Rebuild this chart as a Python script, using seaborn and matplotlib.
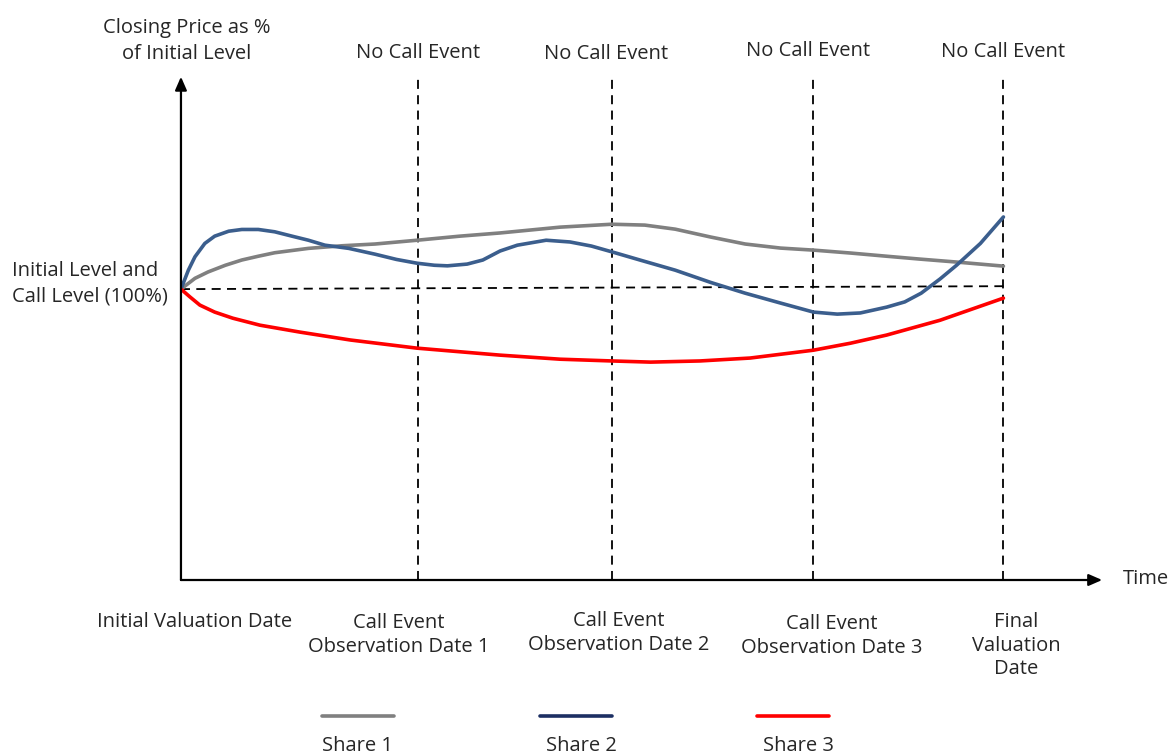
import pandas as pd
import matplotlib.pyplot as plt
import seaborn as sns
from matplotlib.lines import Line2D

# -------------------------
# Data (time as % of term, level as % of initial)
# -------------------------
share1_t = [0, 1.7, 3.3, 5.4, 7.4, 9.4, 11.4, 15.5, 19.6, 23.6, 28.7, 33.9, 38.8, 46.1, 52.4,
            56.4, 60.1, 64.4, 68.6, 72.9, 76.9, 81.4, 85.8, 89.9, 94.3, 100]
share1_v = [100, 103.7, 105.9, 108.2, 110.0, 111.3, 112.5, 114.0, 114.9, 115.5, 116.8, 118.2,
            119.3, 121.3, 122.3, 122.0, 120.6, 117.9, 115.5, 114.1, 113.4, 112.4, 111.3,
            110.3, 109.3, 107.9]

share2_t = [0, 0.9, 1.7, 2.9, 4.1, 5.8, 7.4, 9.4, 11.4, 13.5, 15.5, 17.5, 20.4, 23.6, 26.2,
            28.7, 30.8, 32.4, 34.8, 36.7, 38.8, 40.9, 44.4, 47.3, 49.9, 52.4, 55.8, 60.1,
            64.4, 68.6, 72.9, 76.9, 79.8, 82.6, 85.8, 88.0, 90.0, 92.3, 94.3, 97.2, 100]
share2_v = [100, 106.5, 111.1, 115.7, 118.2, 119.9, 120.5, 120.5, 119.7, 118.2, 116.8, 115.1,
            114.0, 112.0, 110.2, 108.9, 108.2, 108.0, 108.6, 110.0, 113.1, 115.1, 116.8, 116.2,
            114.8, 112.8, 110.0, 106.5, 102.3, 98.6, 95.2, 92.1, 91.4, 91.8, 93.8, 95.6, 98.6,
            103.5, 108.2, 115.7, 124.8]

share3_t = [0, 1.1, 2.3, 4.1, 6.3, 9.6, 14.5, 20.6, 28.7, 38.8, 46.1, 52.4,
            57.1, 63.1, 69.2, 76.9, 81.4, 85.8, 92.3, 100]
share3_v = [100, 97.3, 94.5, 92.1, 90.0, 87.6, 85.2, 82.5, 79.7, 77.3, 75.9, 75.3,
            74.9, 75.3, 76.3, 79.0, 81.4, 84.2, 89.3, 96.9]

call_level_t = [0, 100]
call_level_v = [100, 101]

obs_t = [28.8, 52.4, 76.9, 100]
obs_top = 173
obs_labels = ["Call Event\nObservation Date 1", "Call Event\nObservation Date 2",
              "Call Event\nObservation Date 3", "Final\nValuation\nDate"]
event_labels = ["No Call Event"] * 4

series_names = ["Share 1", "Share 2", "Share 3"]
line_colors = ["#808080", "#3B5E8D", "#FF0000"]
legend_colors = ["#808080", "#1C2F63", "#FF0000"]

df = pd.concat([
    pd.DataFrame({"t": share1_t, "level": share1_v, "share": "Share 1"}),
    pd.DataFrame({"t": share2_t, "level": share2_v, "share": "Share 2"}),
    pd.DataFrame({"t": share3_t, "level": share3_v, "share": "Share 3"}),
])

# -------------------------
# Figure
# -------------------------
sns.set_style("white")
plt.rcParams["font.family"] = ["Open Sans", "DejaVu Sans"]

fig = plt.figure(figsize=(11.69, 7.56), dpi=100)
ax = fig.add_axes([0.1548, 0.2328, 0.788, 0.6653])
ax.set_xlim(0, 112)
ax.set_ylim(0, 172.9)
ax.axis("off")

dash = (0, (5, 3.5))
for t in obs_t:
    ax.plot([t, t], [0, obs_top], color="black", lw=1.3, linestyle=dash, clip_on=False)
ax.plot(call_level_t, call_level_v, color="black", lw=1.3, linestyle=dash)

sns.lineplot(data=df, x="t", y="level", hue="share", palette=line_colors,
             estimator=None, sort=False, lw=2.6, legend=False, ax=ax)

# axes with arrows
arrow = dict(arrowstyle="-|>,head_length=0.8,head_width=0.35", color="black", lw=1.6,
             shrinkA=0, shrinkB=0)
ax.annotate("", xy=(112, 0), xytext=(0, 0), arrowprops=arrow, annotation_clip=False)
ax.annotate("", xy=(0, 173), xytext=(0, 0), arrowprops=arrow, annotation_clip=False)

fs = 14.5
ax.text(0.73, 185.3, "Closing Price as %\nof Initial Level", ha="center", va="center",
        fontsize=fs, linespacing=1.4)
fig.text(12 / 1169, 1 - 284 / 756, "Initial Level and\nCall Level (100%)", ha="left",
         va="center", fontsize=fs, linespacing=1.4)
ax.text(1.7, -14.6, "Initial Valuation Date", ha="center", va="center", fontsize=fs)
ax.text(117.3, 0.3, "Time", ha="center", va="center", fontsize=fs)

label_x = [26.5, 53.2, 79.1, 101.6]
label_y = [-18.8, -18.1, -19.2, -22.6]
event_x = [28.8, 51.7, 76.2, 100]
event_y = [181.0, 180.7, 181.7, 181.4]
for lab, lx, ly, ev, ex, ey in zip(obs_labels, label_x, label_y, event_labels, event_x, event_y):
    ax.text(lx, ly, lab, ha="center", va="center", fontsize=fs, linespacing=1.25)
    ax.text(ex, ey, ev, ha="center", va="center", fontsize=fs)

# legend: line on top, label below
leg_x = [358, 576, 793]
leg_label_x = [358, 581, 798]
for x, lx, name, c in zip(leg_x, leg_label_x, series_names, legend_colors):
    fig.add_artist(Line2D([(x - 36) / 1169, (x + 36) / 1169], [1 - 716 / 756] * 2,
                          color=c, lw=2.6, transform=fig.transFigure))
    fig.text(lx / 1169, 1 - 746 / 756, name, ha="center", va="center", fontsize=fs)

plt.savefig("out.png", dpi=100)
plt.close()
